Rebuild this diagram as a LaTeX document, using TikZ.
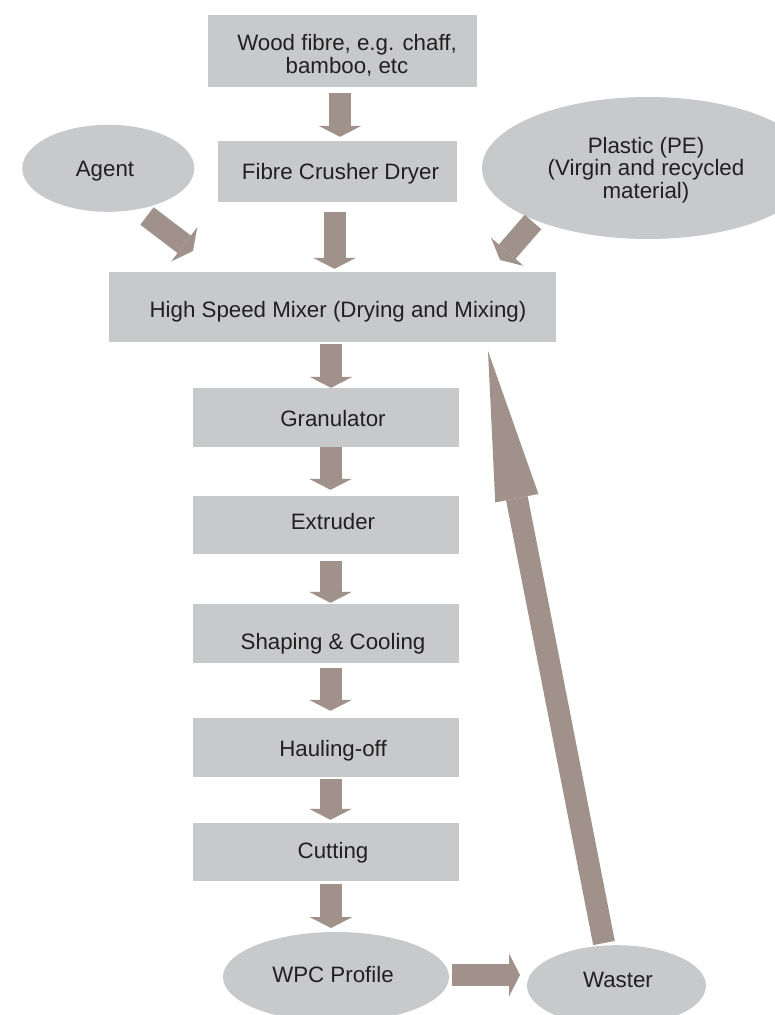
\documentclass[tikz,border=0pt]{standalone}
\usepackage{fontspec}
\setmainfont{Liberation Sans}
\usetikzlibrary{shapes.geometric,arrows.meta}
\definecolor{boxgray}{RGB}{200,201,203}
\definecolor{arrowbrown}{RGB}{160,146,138}
\definecolor{ink}{RGB}{35,31,32}
\begin{document}
\begin{tikzpicture}[x=1pt,y=-1pt,
  box/.style={rectangle, fill=boxgray, inner sep=0pt},
  oval/.style={ellipse, fill=boxgray, inner sep=0pt},
  txt/.style={inner sep=0pt, align=center, text=ink, font=\fontsize{22.3}{22.4}\selectfont},
  blk/.style={draw=arrowbrown, line width=22pt, line cap=butt,
    -{Triangle[width=43pt,length=11pt,line width=0pt]}},
  longblk/.style={draw=arrowbrown, line width=22pt, line cap=butt,
    -{Triangle[width=44pt,length=150pt,line width=0pt]}}]
\fill[white] (0,0) rectangle (775,1015);
\useasboundingbox (0,0) rectangle (775,1015);

% nodes
\node[box, minimum width=269pt, minimum height=72pt] (b1) at (342.5,51) {};
\node[txt] (b1t) at (347,55.5) {Wood fibre, e.g. chaff,\\bamboo, etc};
\node[box, minimum width=239pt, minimum height=61pt] (b2) at (337.5,171.5) {};
\node[txt, anchor=base] (b2t) at (340.5,179) {Fibre Crusher Dryer};
\node[oval, minimum width=172pt, minimum height=87pt] (agent) at (108.3,168.3) {};
\node[txt, anchor=base] (agentt) at (105,176) {Agent};
\node[oval, minimum width=332pt, minimum height=142pt] (plastic) at (648,168) {};
\node[txt] (plastict) at (646,170) {Plastic (PE)\\(Virgin and recycled\\material)};
\node[box, minimum width=447pt, minimum height=70pt] (mix) at (332.5,307) {};
\node[txt, anchor=base] (mixt) at (338,317) {High Speed Mixer (Drying and Mixing)};

\node[box, minimum width=266pt, minimum height=59pt] (gran) at (326,417.5) {};
\node[txt, anchor=base] (grant) at (333,426) {Granulator};
\node[box, minimum width=266pt, minimum height=58pt] (ext) at (326,525) {};
\node[txt, anchor=base] (extt) at (333,529) {Extruder};
\node[box, minimum width=266pt, minimum height=59pt] (shp) at (326,633.5) {};
\node[txt, anchor=base] (shpt) at (333,649) {Shaping \& Cooling};
\node[box, minimum width=266pt, minimum height=59pt] (haul) at (326,747.5) {};
\node[txt, anchor=base] (hault) at (333,756) {Hauling-off};
\node[box, minimum width=266pt, minimum height=58pt] (cut) at (326,852) {};
\node[txt, anchor=base] (cutt) at (333,858) {Cutting};

\node[oval, minimum width=226pt, minimum height=90pt] (wpc) at (336,977) {};
\node[txt, anchor=base] (wpct) at (333,982) {WPC Profile};
\node[oval, minimum width=179pt, minimum height=81pt] (waste) at (616.5,985.7) {};
\node[txt, anchor=base] (wastet) at (618,987) {Waster};

% connector end points
\coordinate (agentout) at (147,216);
\coordinate (agentin) at (193,251);
\coordinate (plasticout) at (533,222);
\coordinate (plasticin) at (500,260);
\coordinate (wasteout) at (604,943);
\coordinate (mixin) at (488,351);

% arrows
\draw[blk, shorten <=6pt, shorten >=4pt] ([xshift=-2.5pt]b1.south) -- ([xshift=2.5pt]b2.north);
\draw[blk, shorten <=10pt, shorten >=3pt] ([xshift=-3pt]b2.south) -- ([xshift=2pt]mix.north);
\draw[blk, shorten <=2pt] ([xshift=-1.5pt]mix.south) -- ([xshift=5pt]gran.north);
\draw[blk, shorten >=6pt] ([xshift=4.5pt]gran.south) -- ([xshift=4.5pt]ext.north);
\draw[blk, shorten <=7pt, shorten >=1pt] ([xshift=4.5pt]ext.south) -- ([xshift=4.5pt]shp.north);
\draw[blk, shorten <=5pt, shorten >=7pt] ([xshift=4.5pt]shp.south) -- ([xshift=4.5pt]haul.north);
\draw[blk, shorten <=2pt, shorten >=3pt] ([xshift=4.5pt]haul.south) -- ([xshift=4.5pt]cut.north);
\draw[blk, shorten <=3pt] ([xshift=5pt]cut.south) -- (331,928);
\draw[blk] (wpc.east |- 0,975) ++(3,0) -- (520,975);
\draw[blk] (agentout) -- (agentin);
\draw[blk] (plasticout) -- (plasticin);
\draw[longblk] (wasteout) -- (mixin);
\end{tikzpicture}
\end{document}
